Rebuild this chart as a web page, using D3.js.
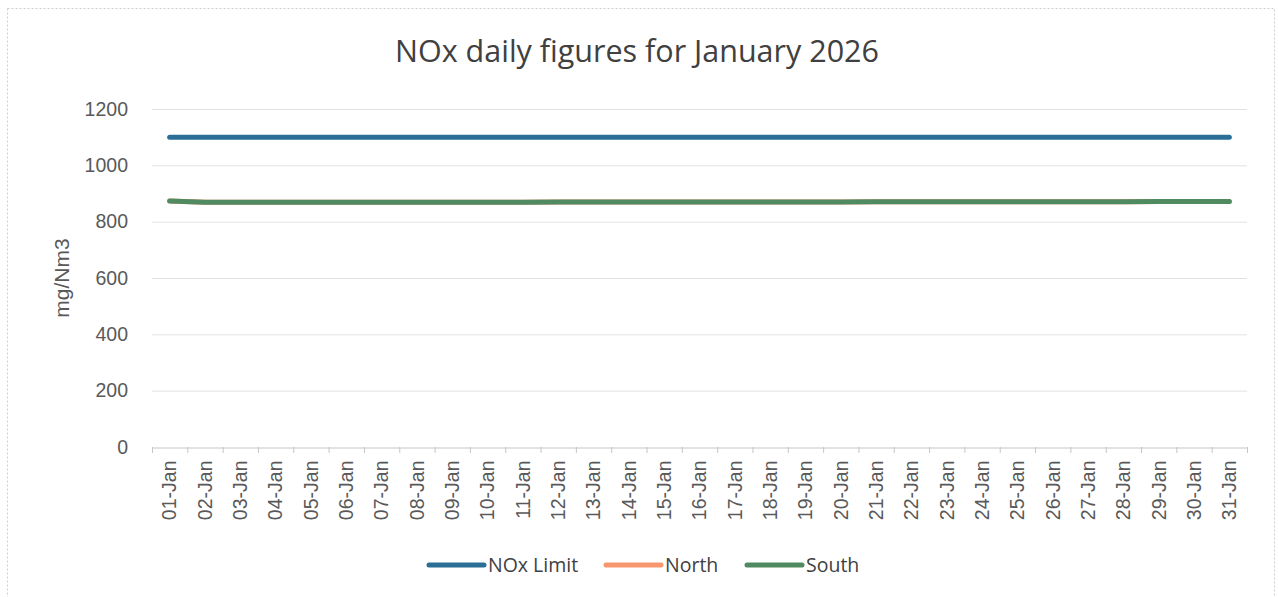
<!DOCTYPE html>
<html>
  <head>
    <meta charset="utf-8">
    <title>NOx daily figures</title>
    <style>
      body{
        margin: 0;
        background-color: #FFF;
      }
      text{
        font-family: "Liberation Sans", Arial, sans-serif;
        fill: #595959;
      }
      .title{
        font-family: "Open Sans", sans-serif;
        fill: #404040;
      }
      .legend text{
        font-family: "Open Sans", sans-serif;
        fill: #404040;
      }
    </style>
  </head>
  <body>
  <script src="https://d3js.org/d3.v7.min.js"></script>
  <script>
const width = 1278;
const height = 597;

const days = ['01-Jan','02-Jan','03-Jan','04-Jan','05-Jan','06-Jan','07-Jan','08-Jan','09-Jan','10-Jan',
  '11-Jan','12-Jan','13-Jan','14-Jan','15-Jan','16-Jan','17-Jan','18-Jan','19-Jan','20-Jan',
  '21-Jan','22-Jan','23-Jan','24-Jan','25-Jan','26-Jan','27-Jan','28-Jan','29-Jan','30-Jan','31-Jan'];

const noxLimit = [1100,1100,1100,1100,1100,1100,1100,1100,1100,1100,1100,1100,1100,1100,1100,1100,
  1100,1100,1100,1100,1100,1100,1100,1100,1100,1100,1100,1100,1100,1100,1100];
const north = [873,869,869,869,869,869,869,869,869,869,869,870,870,870,870,870,
  870,870,870,870,871,871,871,871,871,871,871,871,872,872,872];
const south = [873,869,869,869,869,869,869,869,869,869,869,870,870,870,870,870,
  870,870,870,870,871,871,871,871,871,871,871,871,872,872,872];

const yTicks = [0,200,400,600,800,1000,1200];

const seriesNames = ['NOx Limit','North','South'];
const seriesColors = ['#2b6f97','#f7976f','#4f8a60'];

const series = seriesNames.map((name, i) => ({
  name: name,
  color: seriesColors[i],
  values: [noxLimit, north, south][i]
}));

const margin = {left: 152, right: 31, top: 109, bottom: 150};

const svg = d3.select('body')
  .append('svg')
  .attr('width', width)
  .attr('height', height);

// chart frame (scanned look)
svg.append('rect')
  .attr('x', 7.5)
  .attr('y', 8.5)
  .attr('width', 1267)
  .attr('height', 600)
  .attr('fill', 'none')
  .attr('stroke', '#cfcfcf')
  .attr('stroke-dasharray', '2,2');

const x = d3.scaleBand()
  .domain(days)
  .range([margin.left, width - margin.right]);

const y = d3.scaleLinear()
  .domain([0, 1200])
  .range([height - margin.bottom, margin.top]);

// gridlines
svg.append('g')
  .selectAll('line')
  .data(yTicks.filter((d) => d > 0))
  .enter().append('line')
    .attr('x1', margin.left)
    .attr('x2', width - margin.right)
    .attr('y1', (d) => y(d) + 0.5)
    .attr('y2', (d) => y(d) + 0.5)
    .attr('stroke', '#e2e2e2')
    .attr('stroke-width', 1);

// y axis labels
const yAxis = svg.append('g')
  .attr('transform', `translate(${margin.left},0)`)
  .call(d3.axisLeft(y).tickValues(yTicks).tickFormat(d3.format('d')).tickSize(0).tickPadding(24));
yAxis.select('.domain').remove();
yAxis.selectAll('text')
  .style('font-size', '19.5px')
  .attr('fill', '#595959');

// x axis
const xAxis = svg.append('g')
  .attr('transform', `translate(0,${y(0) + 0.5})`)
  .call(d3.axisBottom(x).tickSize(0));
xAxis.select('.domain').attr('stroke', '#c6c6c6');
xAxis.selectAll('.tick line').remove();

// ticks between categories
svg.append('g')
  .selectAll('line')
  .data(days.concat(['end']))
  .enter().append('line')
    .attr('x1', (d, i) => margin.left + i * x.step() + 0.5)
    .attr('x2', (d, i) => margin.left + i * x.step() + 0.5)
    .attr('y1', y(0))
    .attr('y2', y(0) + 6)
    .attr('stroke', '#c6c6c6');

xAxis.selectAll('text')
  .style('font-size', '19.5px')
  .attr('fill', '#595959')
  .attr('text-anchor', 'end')
  .attr('transform', 'rotate(-90)')
  .attr('x', -13)
  .attr('y', 0)
  .attr('dy', '0.35em');

// y axis title
svg.append('text')
  .attr('transform', `translate(69,${(margin.top + y(0)) / 2}) rotate(-90)`)
  .attr('text-anchor', 'middle')
  .style('font-size', '21px')
  .attr('fill', '#595959')
  .text('mg/Nm3');

// title
svg.append('text')
  .attr('class', 'title')
  .attr('x', 637)
  .attr('y', 62)
  .attr('text-anchor', 'middle')
  .style('font-size', '30.5px')
  .text('NOx daily figures for January 2026');

// lines
const line = d3.line()
  .x((d, i) => x(days[i]) + x.bandwidth() / 2)
  .y((d) => y(d));

svg.append('g')
  .selectAll('path')
  .data(series)
  .enter().append('path')
    .attr('d', (d) => line(d.values))
    .attr('fill', 'none')
    .attr('stroke', (d) => d.color)
    .attr('stroke-width', 5)
    .attr('stroke-linecap', 'round')
    .attr('stroke-linejoin', 'round');

// legend
const legendX = [429, 606, 747];
const legend = svg.append('g')
  .attr('class', 'legend')
  .selectAll('g')
  .data(series)
  .enter().append('g')
    .attr('transform', (d, i) => `translate(${legendX[i]},565)`);

legend.append('line')
  .attr('x1', 0)
  .attr('x2', 55)
  .attr('y1', 0)
  .attr('y2', 0)
  .attr('stroke', (d) => d.color)
  .attr('stroke-width', 5)
  .attr('stroke-linecap', 'round');

legend.append('text')
  .attr('x', 59)
  .attr('y', 0)
  .attr('dy', '0.35em')
  .style('font-size', '19.5px')
  .text((d) => d.name);
  </script>
  </body>
</html>
